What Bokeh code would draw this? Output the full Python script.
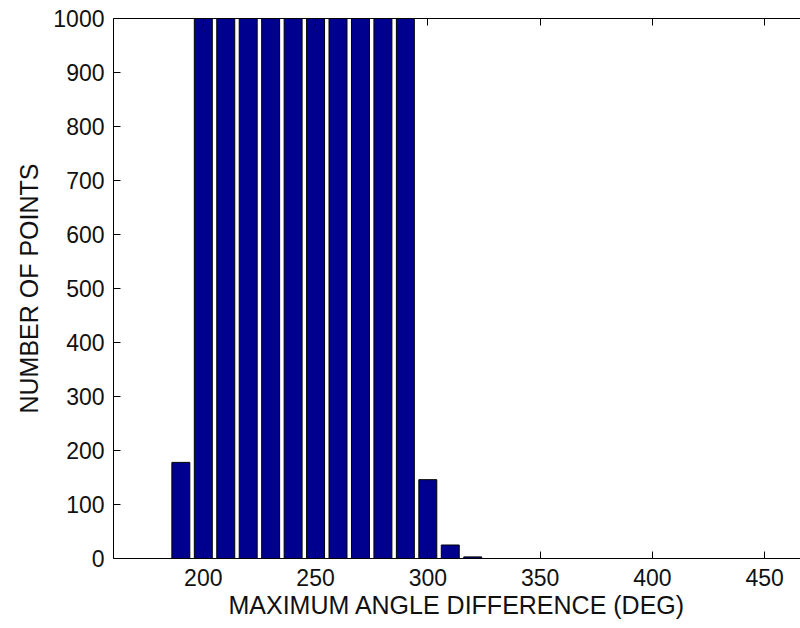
from bokeh.plotting import figure
from bokeh.models import ColumnDataSource, FixedTicker, LinearAxis, Range1d
from bokeh.embed import file_html
from bokeh.resources import INLINE

# Histogram of maximum angle difference, 10-degree bins
bin_centers = [190, 200, 210, 220, 230, 240, 250, 260, 270, 280, 290, 300, 310, 320]
counts = [178, 1000, 1000, 1000, 1000, 1000, 1000, 1000, 1000, 1000, 1000, 146, 25, 3]
x_ticks = [200, 250, 300, 350, 400, 450]
y_ticks = [0, 100, 200, 300, 400, 500, 600, 700, 800, 900, 1000]

FONT = "Liberation Sans"
TICK_SIZE = "23px"
LABEL_SIZE = "25px"
INK = "#111111"

src = ColumnDataSource(dict(x=bin_centers, top=counts))

p = figure(width=800, height=628, output_backend="svg", toolbar_location=None,
           x_range=Range1d(160, 466), y_range=Range1d(0, 1000),
           min_border_left=113, min_border_right=0, min_border_top=18,
           min_border_bottom=70)
p.outline_line_color = None
p.grid.visible = False
p.background_fill_color = "white"
p.border_fill_color = "white"

p.vbar(x="x", top="top", width=8, source=src,
       fill_color="#00008F", line_color="black", line_width=1)

for ax in (p.xaxis[0], p.yaxis[0]):
    ax.major_tick_in = 7
    ax.major_tick_out = 0
    ax.minor_tick_line_color = None
    ax.axis_line_color = "black"
    ax.major_tick_line_color = "black"
    ax.major_label_text_font = FONT
    ax.major_label_text_font_size = TICK_SIZE
    ax.major_label_text_color = INK
    ax.axis_label_text_font = FONT
    ax.axis_label_text_font_size = LABEL_SIZE
    ax.axis_label_text_font_style = "normal"
    ax.axis_label_text_color = INK

p.xaxis[0].ticker = FixedTicker(ticks=x_ticks)
p.xaxis[0].major_label_standoff = 10
p.xaxis[0].axis_label = "MAXIMUM ANGLE DIFFERENCE (DEG)"
p.xaxis[0].axis_label_standoff = 2

p.yaxis[0].ticker = FixedTicker(ticks=y_ticks)
p.yaxis[0].major_label_standoff = 9
p.yaxis[0].axis_label = "NUMBER OF POINTS"
p.yaxis[0].axis_label_standoff = 7

# top border with inward ticks, no labels
top_axis = LinearAxis(ticker=FixedTicker(ticks=x_ticks), major_tick_in=7,
                      major_tick_out=0, minor_tick_line_color=None,
                      major_label_text_font_size="0px", major_label_standoff=0,
                      axis_line_color="black", major_tick_line_color="black")
p.add_layout(top_axis, "above")

open("out.html", "w").write(file_html(p, INLINE))
